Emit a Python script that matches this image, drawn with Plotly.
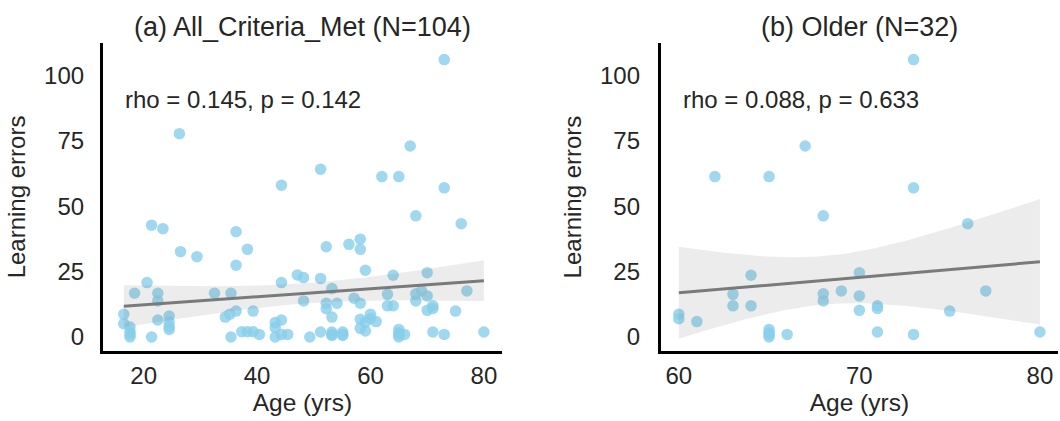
import numpy as np
import plotly.graph_objects as go

# ---------------- data ----------------
age_a = [16.5, 16.5, 17.6, 17.6, 17.6, 17.6, 18.4, 20.6, 21.4, 21.4,
         22.5, 22.5, 22.5, 23.4, 24.5, 24.5, 24.5, 24.5, 26.3, 26.5,
         29.4, 32.5, 34.4, 35.2, 35.4, 35.4, 36.3, 36.3, 36.3, 37.3,
         38.3, 38.3, 39.3, 39.3, 40.4, 43.2, 43.2, 43.2, 44.3, 44.3,
         44.3, 44.3, 45.4, 47.1, 48.2, 48.2, 49.3, 51.2, 51.2,
         51.2, 52.2, 52.2, 52.2, 53.2, 53.2, 53.2, 53.2, 53.2, 54.1,
         55.1, 55.1, 55.1, 56.2, 57.1, 58.2, 58.2, 58.2, 58.2, 58.2,
         59.1, 59.1, 59.1,
         60, 60, 61, 62, 63, 63, 64, 64, 65, 65, 65, 65, 65, 66, 67, 68,
         68, 68, 69, 70, 70, 70, 71, 71, 71, 73, 73, 73, 75, 76, 77, 80]
err_a = [8.7, 5.1, 3.8, 2.0, 1.0, 0.0, 16.7, 20.8, 42.7, 0.0,
         16.7, 13.8, 6.5, 41.4, 8.0, 5.7, 4.0, 2.9, 77.7, 32.6,
         30.7, 16.7, 7.6, 8.7, 16.7, 0.0, 40.2, 27.4, 9.9, 2.0,
         33.5, 2.0, 9.9, 2.0, 1.0, 5.5, 3.6, 0.0, 58.0, 20.8,
         6.5, 1.0, 1.0, 23.7, 22.7, 13.8, 0.0, 64.1, 22.4,
         1.9, 34.5, 12.9, 10.8, 18.5, 7.6, 1.9, 1.0, 0.6, 12.9,
         1.9, 1.0, 0.6, 35.4, 14.8, 37.4, 33.5, 12.9, 6.8, 3.3,
         25.5, 5.7, 2.3,
         8.7, 7.0, 5.9, 61.3, 16.3, 11.9, 23.6, 11.9, 61.3, 2.9, 1.6, 1.0, 0.0, 1.0, 73.0, 46.3,
         16.5, 13.8, 17.6, 24.6, 15.7, 10.2, 11.9, 10.9, 1.9, 106.0, 57.0, 1.0, 9.9, 43.3, 17.6, 1.9]

age_b = [60, 60, 61, 62, 63, 63, 64, 64, 65, 65, 65, 65, 65, 66, 67, 68,
         68, 68, 69, 70, 70, 70, 71, 71, 71, 73, 73, 73, 75, 76, 77, 80]
err_b = [8.7, 7.0, 5.9, 61.3, 16.3, 11.9, 23.6, 11.9, 61.3, 2.9, 1.6, 1.0, 0.0, 1.0, 73.0, 46.3,
         16.5, 13.8, 17.6, 24.6, 15.7, 10.2, 11.9, 10.9, 1.9, 106.0, 57.0, 1.0, 9.9, 43.3, 17.6, 1.9]

titles = ["(a) All_Criteria_Met (N=104)", "(b) Older (N=32)"]
stats = ["rho = 0.145, p = 0.142", "rho = 0.088, p = 0.633"]
x_ticks_a = [20, 40, 60, 80]
x_ticks_b = [60, 70, 80]
y_ticks = [0, 25, 50, 75, 100]

# ---------------- styling ----------------
FONT = "Liberation Sans, Arial, sans-serif"
TXT = "#262626"
PT = "rgba(135,206,235,0.8)"

fig = go.Figure()


def add_panel(ages, errs, xa, ya):
    x = np.asarray(ages, float)
    y = np.asarray(errs, float)
    n = len(x)
    tc = 1.983 if n > 60 else 2.042
    fig.add_trace(go.Scatter(x=x, y=y, mode="markers", xaxis=xa, yaxis=ya,
                             marker=dict(size=11.5, color=PT, line=dict(width=0)),
                             showlegend=False, hoverinfo="skip"))
    b1, b0 = np.polyfit(x, y, 1)
    xs = np.linspace(x.min(), x.max(), 100)
    yh = b0 + b1 * xs
    res = y - (b0 + b1 * x)
    s = np.sqrt(np.sum(res ** 2) / (n - 2))
    sxx = np.sum((x - x.mean()) ** 2)
    half = tc * s * np.sqrt(1.0 / n + (xs - x.mean()) ** 2 / sxx)
    fig.add_trace(go.Scatter(x=np.concatenate([xs, xs[::-1]]),
                             y=np.concatenate([yh + half, (yh - half)[::-1]]),
                             mode="lines", fill="toself", line=dict(width=0),
                             fillcolor="rgba(128,128,128,0.15)", xaxis=xa, yaxis=ya,
                             showlegend=False, hoverinfo="skip"))
    fig.add_trace(go.Scatter(x=xs, y=yh, mode="lines", xaxis=xa, yaxis=ya,
                             line=dict(color="rgb(122,122,122)", width=3),
                             showlegend=False, hoverinfo="skip"))


add_panel(age_a, err_a, "x", "y")
add_panel(age_b, err_b, "x2", "y2")

W, H = 1060, 421
ydom = [1 - 351 / H, 1 - 43 / H]
axis_common = dict(showgrid=False, zeroline=False, showline=True, linecolor="black",
                   linewidth=2.8, ticks="", tickfont=dict(size=24, color=TXT, family=FONT))

yr = [-5.35, 112.35]
xt = dict(text="Age (yrs)", font=dict(size=24.5, color=TXT, family=FONT), standoff=2)
ytl = dict(text="Learning errors", font=dict(size=24, color=TXT, family=FONT), standoff=12)
fig.update_layout(
    width=W, height=H, plot_bgcolor="white", paper_bgcolor="white",
    margin=dict(l=0, r=2, t=0, b=0),
    font=dict(family=FONT, color=TXT),
    xaxis=dict(domain=[103 / W, 503 / W], range=[12.8, 83.2], tickvals=x_ticks_a,
               title=xt, anchor="y", ticklabelstandoff=1, **axis_common),
    yaxis=dict(domain=ydom, range=yr, tickvals=y_ticks, title=ytl,
               anchor="x", ticklabelstandoff=11, **axis_common),
    xaxis2=dict(domain=[662 / W, 1.0], range=[59, 81], tickvals=x_ticks_b,
                title=xt, anchor="y2", ticklabelstandoff=1, **axis_common),
    yaxis2=dict(domain=ydom, range=yr, tickvals=y_ticks, title=ytl,
                anchor="x2", ticklabelstandoff=13, **axis_common),
)

annos = []
for xr, t in [("x", titles[0]), ("x2", titles[1])]:
    annos.append(dict(text=t, xref=xr + " domain", yref="paper", x=0.5, y=1 - 27 / H,
                      xanchor="center", yanchor="middle", showarrow=False,
                      font=dict(size=27, color=TXT, family=FONT)))
for xr, yr_, t in [("x", "y", stats[0]), ("x2", "y2", stats[1])]:
    annos.append(dict(text=t, xref=xr + " domain", yref=yr_ + " domain", x=0.05, y=0.815,
                      xanchor="left", yanchor="middle", showarrow=False,
                      font=dict(size=24, color=TXT, family=FONT)))
fig.update_layout(annotations=annos)

fig.write_html("out.html")
